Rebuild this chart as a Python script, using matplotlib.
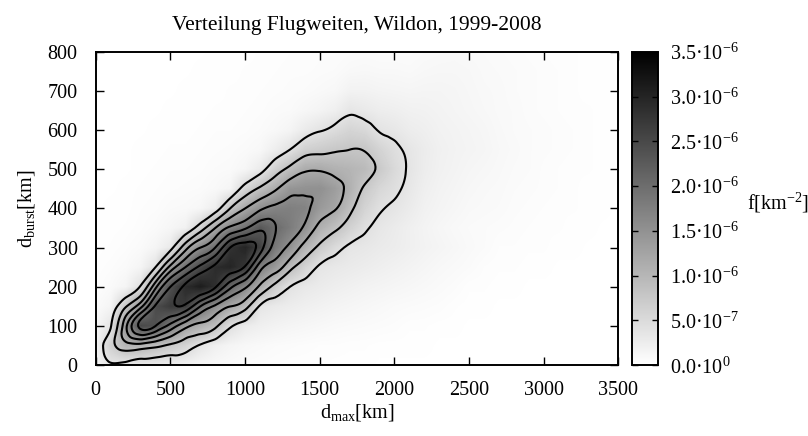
import numpy as np
import matplotlib
matplotlib.use("Agg")
import matplotlib.pyplot as plt
from matplotlib.tri import Triangulation, UniformTriRefiner

plt.rcParams['font.family'] = ['Liberation Serif', 'DejaVu Serif']
plt.rcParams['mathtext.fontset'] = 'custom'
plt.rcParams['mathtext.rm'] = 'Liberation Serif'
plt.rcParams['mathtext.it'] = 'Liberation Serif:italic'

# grid of the density map
d_max = np.arange(0, 3501, 100)    # km, columns
d_burst = np.arange(0, 801, 50)    # km, rows

# density, one list per d_burst row, unit 1e-7 km^-2
f_000 = [1.5, 3.6, 3.0, 2.8, 2.7, 2.4, 1.8, 1.3, 1.0, 0.8, 0.6, 0.5, 0.4, 0.3, 0.3, 0.3, 0.2, 0.2,
         0.2, 0.1, 0.1, 0.1, 0.1, 0.1, 0.1, 0.1, 0.1, 0.1, 0.0, 0.0, 0.0, 0.0, 0.0, 0.0, 0.0, 0.0]
f_050 = [1.5, 6.5, 10.2, 10.4, 9.0, 7.3, 5.9, 3.6, 2.2, 1.5, 1.1, 0.9, 0.7, 0.6, 0.5, 0.4, 0.4, 0.3,
         0.3, 0.2, 0.2, 0.2, 0.2, 0.1, 0.1, 0.1, 0.1, 0.1, 0.1, 0.0, 0.0, 0.0, 0.0, 0.0, 0.0, 0.0]
f_100 = [1.2, 3.7, 14.8, 25.0, 24.0, 18.5, 13.2, 10.9, 8.8, 4.5, 2.8, 2.2, 1.8, 1.5, 1.3, 1.1, 0.9, 0.8,
         0.7, 0.6, 0.5, 0.3, 0.3, 0.2, 0.2, 0.1, 0.1, 0.1, 0.1, 0.1, 0.0, 0.0, 0.0, 0.0, 0.0, 0.0]
f_150 = [0.7, 1.5, 7.6, 14.7, 24.5, 27.0, 27.0, 20.0, 15.3, 12.0, 9.5, 3.6, 3.0, 2.6, 2.2, 1.9, 1.6, 1.4,
         1.2, 1.0, 0.8, 0.7, 0.6, 0.5, 0.3, 0.2, 0.2, 0.1, 0.1, 0.1, 0.1, 0.1, 0.0, 0.0, 0.0, 0.0]
f_200 = [0.4, 0.8, 1.5, 4.3, 14.9, 24.0, 29.0, 31.0, 28.5, 21.0, 16.6, 11.3, 6.8, 4.0, 3.2, 2.8, 2.4, 2.1,
         1.8, 1.6, 1.4, 1.2, 1.0, 0.8, 0.6, 0.3, 0.3, 0.2, 0.2, 0.1, 0.1, 0.1, 0.1, 0.1, 0.0, 0.0]
f_250 = [0.3, 0.5, 0.8, 1.5, 4.0, 13.3, 20.0, 25.0, 29.0, 30.0, 27.5, 17.6, 14.0, 9.3, 6.0, 3.6, 3.2, 2.9,
         2.6, 2.3, 2.0, 1.7, 1.4, 1.1, 0.9, 0.7, 0.4, 0.3, 0.3, 0.2, 0.2, 0.1, 0.1, 0.1, 0.1, 0.1]
f_300 = [0.2, 0.3, 0.5, 0.8, 1.5, 3.0, 10.4, 16.0, 20.0, 28.0, 30.0, 26.0, 18.5, 15.0, 10.5, 7.2, 5.0, 3.6,
         3.3, 2.9, 2.6, 2.2, 1.8, 1.5, 1.2, 0.9, 0.7, 0.4, 0.4, 0.3, 0.3, 0.2, 0.2, 0.1, 0.1, 0.1]
f_350 = [0.2, 0.2, 0.3, 0.5, 0.8, 1.3, 2.0, 6.0, 12.0, 16.8, 19.5, 23.0, 20.3, 18.0, 15.2, 10.9, 8.7, 6.3,
         4.4, 3.4, 2.8, 2.2, 1.7, 1.3, 1.0, 0.8, 0.7, 0.6, 0.5, 0.4, 0.3, 0.3, 0.2, 0.2, 0.1, 0.1]
f_400 = [0.1, 0.2, 0.2, 0.4, 0.5, 0.8, 0.9, 1.2, 2.5, 8.0, 12.0, 15.3, 17.0, 17.5, 17.0, 14.0, 12.3, 9.0,
         6.0, 4.3, 3.6, 2.8, 2.0, 1.6, 1.3, 1.0, 0.9, 0.8, 0.6, 0.5, 0.4, 0.3, 0.3, 0.2, 0.2, 0.1]
f_450 = [0.1, 0.1, 0.2, 0.3, 0.4, 0.5, 0.6, 0.7, 1.0, 1.5, 5.5, 8.6, 11.4, 14.5, 15.0, 15.2, 13.5, 10.8,
         7.5, 5.5, 4.5, 3.3, 2.3, 1.8, 1.5, 1.2, 1.0, 0.9, 0.7, 0.6, 0.5, 0.4, 0.3, 0.2, 0.2, 0.1]
f_500 = [0.1, 0.1, 0.1, 0.2, 0.3, 0.4, 0.4, 0.5, 0.7, 0.8, 1.3, 2.8, 6.2, 9.0, 11.4, 11.6, 10.7, 10.2,
         9.5, 7.3, 5.2, 3.7, 2.6, 2.0, 1.7, 1.4, 1.2, 1.0, 0.8, 0.7, 0.5, 0.4, 0.3, 0.3, 0.2, 0.2]
f_550 = [0.1, 0.1, 0.1, 0.2, 0.2, 0.3, 0.3, 0.4, 0.5, 0.6, 0.8, 1.1, 2.4, 4.0, 6.4, 7.0, 7.6, 8.0,
         7.8, 6.0, 4.6, 3.5, 2.7, 2.1, 1.8, 1.6, 1.4, 1.1, 0.9, 0.7, 0.6, 0.5, 0.4, 0.3, 0.2, 0.2]
f_600 = [0.1, 0.1, 0.1, 0.1, 0.2, 0.2, 0.2, 0.3, 0.4, 0.4, 0.5, 0.7, 1.0, 1.5, 2.8, 3.8, 4.8, 5.8,
         5.3, 3.8, 3.3, 2.6, 2.3, 1.9, 1.7, 1.5, 1.3, 1.0, 0.8, 0.7, 0.6, 0.5, 0.4, 0.3, 0.2, 0.2]
f_650 = [0.1, 0.1, 0.1, 0.1, 0.1, 0.2, 0.2, 0.2, 0.3, 0.3, 0.4, 0.5, 0.7, 0.8, 1.2, 1.6, 2.2, 3.5,
         3.0, 2.5, 2.3, 2.0, 1.9, 1.7, 1.5, 1.3, 1.1, 0.9, 0.8, 0.6, 0.5, 0.4, 0.3, 0.3, 0.2, 0.2]
f_700 = [0.1, 0.1, 0.1, 0.1, 0.1, 0.1, 0.2, 0.2, 0.2, 0.3, 0.3, 0.4, 0.5, 0.6, 0.7, 0.9, 1.1, 1.8,
         1.8, 1.6, 1.5, 1.4, 1.5, 1.5, 1.4, 1.2, 1.0, 0.9, 0.7, 0.6, 0.5, 0.4, 0.3, 0.2, 0.2, 0.2]
f_750 = [0.1, 0.1, 0.1, 0.1, 0.1, 0.1, 0.1, 0.2, 0.2, 0.2, 0.3, 0.3, 0.4, 0.5, 0.5, 0.6, 0.7, 1.0,
         1.1, 1.0, 1.0, 0.9, 1.1, 1.2, 1.2, 1.1, 0.9, 0.8, 0.7, 0.6, 0.5, 0.4, 0.3, 0.2, 0.2, 0.1]
f_800 = [0.1, 0.1, 0.1, 0.1, 0.1, 0.1, 0.1, 0.1, 0.2, 0.2, 0.2, 0.3, 0.3, 0.4, 0.4, 0.5, 0.5, 0.6,
         0.7, 0.6, 0.6, 0.6, 0.8, 0.9, 1.0, 0.9, 0.8, 0.7, 0.6, 0.5, 0.4, 0.3, 0.3, 0.2, 0.2, 0.1]

rows = [f_000, f_050, f_100, f_150, f_200, f_250, f_300, f_350, f_400,
        f_450, f_500, f_550, f_600, f_650, f_700, f_750, f_800]
dens = np.array(rows) * 1e-7

# contour levels and colorbar
levels = [0.4e-6, 0.8e-6, 1.2e-6, 1.6e-6, 2.0e-6, 2.4e-6, 2.8e-6]
cb_ticks = [0, 0.5e-6, 1.0e-6, 1.5e-6, 2.0e-6, 2.5e-6, 3.0e-6, 3.5e-6]
cb_labels = [r'$\mathrm{0.0·10^{0}}$', r'$\mathrm{5.0·10^{-7}}$', r'$\mathrm{1.0·10^{-6}}$',
             r'$\mathrm{1.5·10^{-6}}$', r'$\mathrm{2.0·10^{-6}}$', r'$\mathrm{2.5·10^{-6}}$',
             r'$\mathrm{3.0·10^{-6}}$', r'$\mathrm{3.5·10^{-6}}$']

FS = 14.5

fig = plt.figure(figsize=(8.08, 4.36), dpi=100)
ax = fig.add_axes([0.1184, 0.1622, 0.6469, 0.7192])

dx = (d_max[1] - d_max[0]) / 2
dy = (d_burst[1] - d_burst[0]) / 2
im = ax.imshow(dens, origin='lower', cmap='gray_r', vmin=0, vmax=3.5e-6,
               extent=[d_max[0] - dx, d_max[-1] + dx, d_burst[0] - dy, d_burst[-1] + dy],
               interpolation='bilinear', aspect='auto')

# smooth contour lines: cubic refinement of the grid triangulation
X, Y = np.meshgrid(d_max, d_burst)
nx, ny = len(d_max), len(d_burst)
triangles = []
for j in range(ny - 1):
    for i in range(nx - 1):
        k = j * nx + i
        triangles.append([k, k + 1, k + nx + 1])
        triangles.append([k, k + nx + 1, k + nx])
tri = Triangulation(X.ravel(), Y.ravel(), triangles)
tri_fine, dens_fine = UniformTriRefiner(tri).refine_field(dens.ravel(), subdiv=3)
ax.tricontour(tri_fine, dens_fine, levels=levels, colors='k', linewidths=1.5)

ax.set_xlim(0, 3500)
ax.set_ylim(0, 800)
ax.set_xticks(range(0, 3501, 500))
ax.set_yticks(range(0, 801, 100))
ax.tick_params(direction='in', length=5.8, width=1.0, top=True, right=True, labelsize=FS)
ax.tick_params(axis='x', pad=11.5)
ax.tick_params(axis='y', pad=13)
for s in ax.spines.values():
    s.set_linewidth(1.4)

ax.set_title('Verteilung Flugweiten, Wildon, 1999-2008', fontsize=15.5, pad=15.6)
ax.set_xlabel(r'$\mathrm{d_{max}[km]}$', fontsize=FS)
ax.xaxis.set_label_coords(0.5, -0.118)
ax.set_ylabel(r'$\mathrm{d_{burst}[km]}$', fontsize=FS)
ax.yaxis.set_label_coords(-0.112, 0.5)

cax = fig.add_axes([0.7818, 0.1622, 0.0329, 0.7192])
cb = fig.colorbar(im, cax=cax, ticks=cb_ticks)
cb.set_ticklabels(cb_labels)
cax.tick_params(direction='in', left=True, right=True, length=4.5, width=1.0,
                labelsize=FS, pad=8.5)
cb.outline.set_linewidth(1.4)
cax.text(4.33, 0.517, r'$\mathrm{f[km^{-2}]}$', transform=cax.transAxes,
         ha='left', va='center', fontsize=FS)

fig.savefig('out.png', dpi=100)
plt.close()
